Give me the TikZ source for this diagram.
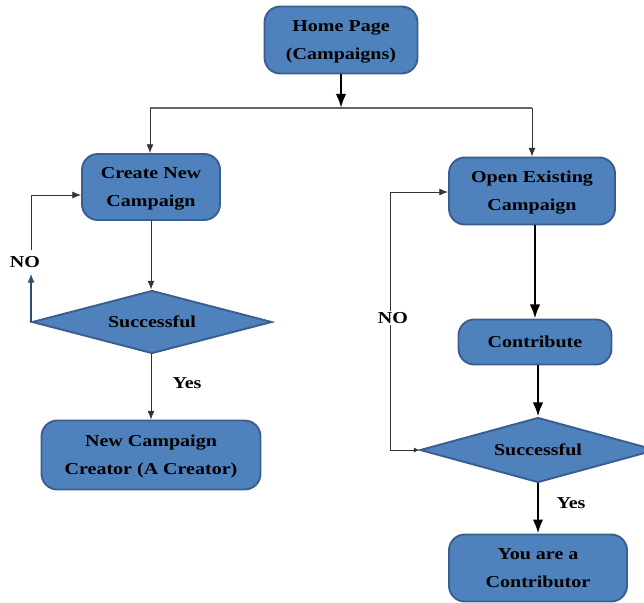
\documentclass[tikz,border=0pt]{standalone}
\usepackage{fontspec}
\setmainfont{Liberation Serif}[FakeStretch=1.2]
\usetikzlibrary{calc,shapes.geometric,arrows.meta}

\definecolor{boxblue}{HTML}{4F81BD}
\definecolor{boxline}{HTML}{3A5F8E}
\definecolor{loopblue}{HTML}{2E4A78}

\tikzset{
  txt/.style={font=\fontsize{9.5}{15.9}\selectfont\bfseries, align=center},
  box/.style={txt, draw=boxline, fill=boxblue, line width=1.1pt, rounded corners=9pt, inner sep=0pt, text depth=0pt},
  decision/.style={txt, diamond, draw=boxline, fill=boxblue, line width=1.1pt, inner sep=0pt},
  thin arrow/.style={draw=black!80, line width=0.5pt, -{Latex[length=5pt,width=4pt]}},
  thick arrow/.style={draw=black, line width=1.4pt, -{Latex[length=8pt,width=6pt]}},
}

\begin{document}
\begin{tikzpicture}[x=0.02cm, y=-0.02cm]
			%%%%% START %%%%%
			\useasboundingbox (0, 0) rectangle (644, 602);
			
			\node[box, minimum width=3.06cm, minimum height=1.34cm] (home) at (341, 40) {Home Page\\(Campaigns)};
			
			\node[box, minimum width=2.76cm, minimum height=1.32cm] (create) at (151, 187) {Create New\\Campaign};
			\node[decision, shape aspect=3.8, minimum width=4.8cm, minimum height=1.26cm] (succL) at (152, 322) {Successful};
			\node[box, minimum width=4.38cm, minimum height=1.38cm] (creator) at (151, 455) {New Campaign\\Creator (A Creator)};
			
			\node[box, minimum width=3.32cm, minimum height=1.34cm] (open) at (532, 191) {Open Existing\\Campaign};
			\node[box, minimum width=3.06cm, minimum height=0.9cm] (contrib) at (535, 342) {Contribute};
			\node[decision, shape aspect=3.6, minimum width=4.72cm, minimum height=1.3cm] (succR) at (538, 450) {Successful};
			\node[box, minimum width=3.56cm, minimum height=1.34cm] (contributor) at (538, 568) {You are a\\Contributor};
			
			% split below the home page
			\coordinate (split) at (341, 108);
			\coordinate (splitL) at (150, 108);
			\coordinate (splitR) at (532, 108);
			\draw[thick arrow] (home.south) -- (split);
			\draw[draw=black!60, line width=0.7pt] (splitL) -- (splitR);
			\draw[thin arrow] (splitL) -- (splitL |- create.north);
			\draw[thin arrow] (splitR) -- (splitR |- open.north);
			
			% creator branch
			\draw[thin arrow] (create.south) -- (create.south |- succL.north);
			\node[txt] (noL) at (25, 262) {NO};
			\draw[thin arrow, draw=loopblue, line width=0.7pt] (succL.west) -- (succL.west |- noL.south);
			\draw[thin arrow] (noL.north -| succL.west) |- ($(create.west)+(0, 8)$);
			\draw[thin arrow] (succL.south -| create.south) -- (create.south |- creator.north);
			\node[txt] (yesL) at (187, 383) {Yes};
			
			% contributor branch
			\draw[thick arrow] (open.south -| contrib.north) -- (contrib.north);
			\draw[thick arrow] (contrib.south -| succR.north) -- (succR.north);
			\coordinate (loopR) at (390, 450);
			\draw[thin arrow, {Latex[length=3pt,width=3pt]}-{Latex[length=5pt,width=4pt]}] (succR.west) -- (loopR) |- ($(open.west)+(0, 1)$);
			\node[txt, fill=white, inner sep=1pt] (noR) at (393, 318) {NO};
			\draw[thick arrow] (succR.south) -- (contributor.north);
			\node[txt] (yesR) at (571, 503) {Yes};
			
			%%%%% END %%%%%
		\end{tikzpicture}
\end{document}
